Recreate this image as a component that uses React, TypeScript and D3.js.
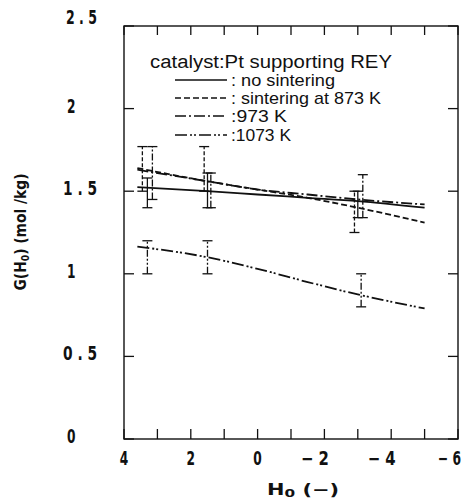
import React from "react";
import * as d3 from "d3";

// ---- data ----
const seriesNames = ["no sintering", "sintering at 873 K", "973 K", "1073 K"];
const legendLabels = [": no sintering", ": sintering at 873 K", ":973 K", ":1073 K"];
const legendWidths = [104, 150, 56, 60];
const curveH = [3.6, 1.5, 0, -1.5, -3, -5];
const noSinteringG = [1.525, 1.50, 1.48, 1.46, 1.44, 1.40];
const sinter873G = [1.64, 1.56, 1.51, 1.46, 1.40, 1.31];
const sinter973G = [1.63, 1.56, 1.51, 1.48, 1.45, 1.42];
const sinter1073G = [1.165, 1.10, 1.03, 0.95, 0.875, 0.79];

const errNoSinterH = [3.3, 1.5, -3.0];
const errNoSinterLo = [1.40, 1.40, 1.34];
const errNoSinterHi = [1.58, 1.61, 1.50];
const err873H = [3.45, 1.6, -2.9];
const err873Lo = [1.50, 1.50, 1.25];
const err873Hi = [1.77, 1.77, 1.50];
const err973H = [3.15, 1.4, -3.15];
const err973Lo = [1.45, 1.40, 1.34];
const err973Hi = [1.77, 1.61, 1.60];
const err1073H = [3.3, 1.5, -3.1];
const err1073Lo = [1.00, 1.00, 0.80];
const err1073Hi = [1.20, 1.20, 1.00];

const xTickLabels = [4, 2, 0, -2, -4, -6];
const xMinorTicks = [3, 1, -1, -3, -5];
const yTickLabels = [0, 0.5, 1, 1.5, 2, 2.5];

const dashes = ["", "6,3", "11,3,2,3", "12,3,2,2,2,3"];

export default function App() {
  const left = 124, right = 458, top = 26, bottom = 439;
  const x = d3.scaleLinear().domain([4, -6]).range([left, right]);
  const y = d3.scaleLinear().domain([0, 2.5]).range([bottom, top]);
  const line = d3
    .line<[number, number]>()
    .x((d) => x(d[0]))
    .y((d) => y(d[1]))
    .curve(d3.curveMonotoneX);

  const curves = [noSinteringG, sinter873G, sinter973G, sinter1073G];
  const errs = [
    [errNoSinterH, errNoSinterLo, errNoSinterHi],
    [err873H, err873Lo, err873Hi],
    [err973H, err973Lo, err973Hi],
    [err1073H, err1073Lo, err1073Hi],
  ];
  const tickFont = "'DejaVu Sans Condensed', 'DejaVu Sans', sans-serif";
  const textFont = "'Liberation Sans', Arial, sans-serif";
  const legendRows = [80, 98, 116, 135];

  return (
    <svg
      width={464}
      height={499}
      style={{ position: "absolute", left: 0, top: 0, background: "#fff" }}
    >
      <rect x={0} y={0} width={464} height={499} fill="#fff" />
      {/* frame */}
      <rect
        x={left}
        y={top}
        width={right - left}
        height={bottom - top}
        fill="none"
        stroke="#111"
        strokeWidth={1.4}
      />
      {/* x ticks */}
      {[...xTickLabels, ...xMinorTicks].map((t) => (
        <g key={"xt" + t}>
          <line x1={x(t)} x2={x(t)} y1={bottom} y2={bottom - 10} stroke="#111" strokeWidth={1.3} />
          <line x1={x(t)} x2={x(t)} y1={top} y2={top + 9} stroke="#111" strokeWidth={1.3} />
        </g>
      ))}
      {/* y ticks */}
      {yTickLabels.map((t) => (
        <g key={"yt" + t}>
          <line x1={left} x2={left + 10} y1={y(t)} y2={y(t)} stroke="#111" strokeWidth={1.3} />
          <line x1={right} x2={right - 10} y1={y(t)} y2={y(t)} stroke="#111" strokeWidth={1.3} />
        </g>
      ))}
      {/* x tick labels */}
      {xTickLabels.map((t) =>
        t === -6 ? (
          <text
            key={"xl" + t}
            transform={`translate(461,465) scale(0.72,1)`}
            textAnchor="end"
            fontFamily={tickFont}
            fontWeight="bold"
            fontSize={19}
            fill="#111"
          >
            {"\u2212 " + Math.abs(t)}
          </text>
        ) : (
          <text
            key={"xl" + t}
            x={x(t) + (t < 0 ? 4.5 : 0)}
            y={465}
            textAnchor={t < 0 ? "end" : "middle"}
            fontFamily={tickFont}
            fontWeight="bold"
            fontSize={19}
            textLength={t < 0 ? 28 : 8.5}
            lengthAdjust="spacingAndGlyphs"
            fill="#111"
          >
            {t < 0 ? "\u2212 " + Math.abs(t) : String(t)}
          </text>
        )
      )}
      {/* y tick labels */}
      {yTickLabels.map((t) => (
        <text
          key={"yl" + t}
          x={t % 1 === 0 ? 67 : t === 2.5 ? 66 : 63}
          y={y(t) + (t === 2.5 ? -2 : 4)}
          textAnchor="start"
          fontFamily={tickFont}
          fontWeight="bold"
          fontSize={19}
          textLength={t % 1 === 0 ? 8.5 : t === 2.5 ? 31 : 34}
          lengthAdjust="spacingAndGlyphs"
          fill="#111"
        >
          {t % 1 === 0 ? String(t) : String(t).replace(".", " . ")}
        </text>
      ))}
      {/* axis titles */}
      <text
        transform="translate(26,232) rotate(-90)"
        textAnchor="middle"
        fontFamily={tickFont}
        fontWeight="bold"
        fontSize={15}
        textLength={117}
        lengthAdjust="spacingAndGlyphs"
        fill="#111"
      >
        G(H<tspan fontSize={10} dy={3}>0</tspan>
        <tspan dy={-3}>)  (mol /kg)</tspan>
      </text>
      <text
        x={303}
        y={495}
        textAnchor="middle"
        fontFamily={tickFont}
        fontWeight="bold"
        fontSize={15}
        textLength={72}
        lengthAdjust="spacingAndGlyphs"
        fill="#111"
      >
        H<tspan fontSize={11} dy={2}>0</tspan>
        <tspan dy={-2}>   (−)</tspan>
      </text>
      {/* curves */}
      {curves.map((g, i) => (
        <path
          key={"c" + i}
          d={line(curveH.map((h, j) => [h, g[j]] as [number, number])) || ""}
          fill="none"
          stroke="#111"
          strokeWidth={1.8}
          strokeDasharray={dashes[i]}
        />
      ))}
      {/* error bars */}
      {errs.map(([hs, lo, hi], i) =>
        hs.map((h, j) => (
          <g key={"e" + i + "-" + j} stroke="#111" strokeWidth={1.3}>
            <line
              x1={x(h)}
              x2={x(h)}
              y1={y(lo[j])}
              y2={y(hi[j])}
              strokeDasharray={i === 0 ? "" : i === 1 ? "4,2" : i === 2 ? "7,2,2,2" : "7,2,2,2,2,2"}
            />
            <line x1={x(h) - 5} x2={x(h) + 5} y1={y(lo[j])} y2={y(lo[j])} />
            <line x1={x(h) - 5} x2={x(h) + 5} y1={y(hi[j])} y2={y(hi[j])} />
          </g>
        ))
      )}
      {/* legend */}
      <text
        x={150}
        y={68}
        fontFamily={textFont}
        fontSize={18}
        textLength={242}
        lengthAdjust="spacingAndGlyphs"
        fill="#111"
      >
        catalyst:Pt supporting REY
      </text>
      {seriesNames.map((name, i) => (
        <g key={"lg" + name}>
          <line
            x1={175}
            x2={227}
            y1={legendRows[i]}
            y2={legendRows[i]}
            stroke="#111"
            strokeWidth={1.6}
            strokeDasharray={dashes[i]}
          />
          <text
            x={231}
            y={legendRows[i] + 6}
            fontFamily={textFont}
            fontSize={17}
            textLength={legendWidths[i]}
            lengthAdjust="spacingAndGlyphs"
            fill="#111"
          >
            {legendLabels[i]}
          </text>
        </g>
      ))}
    </svg>
  );
}
